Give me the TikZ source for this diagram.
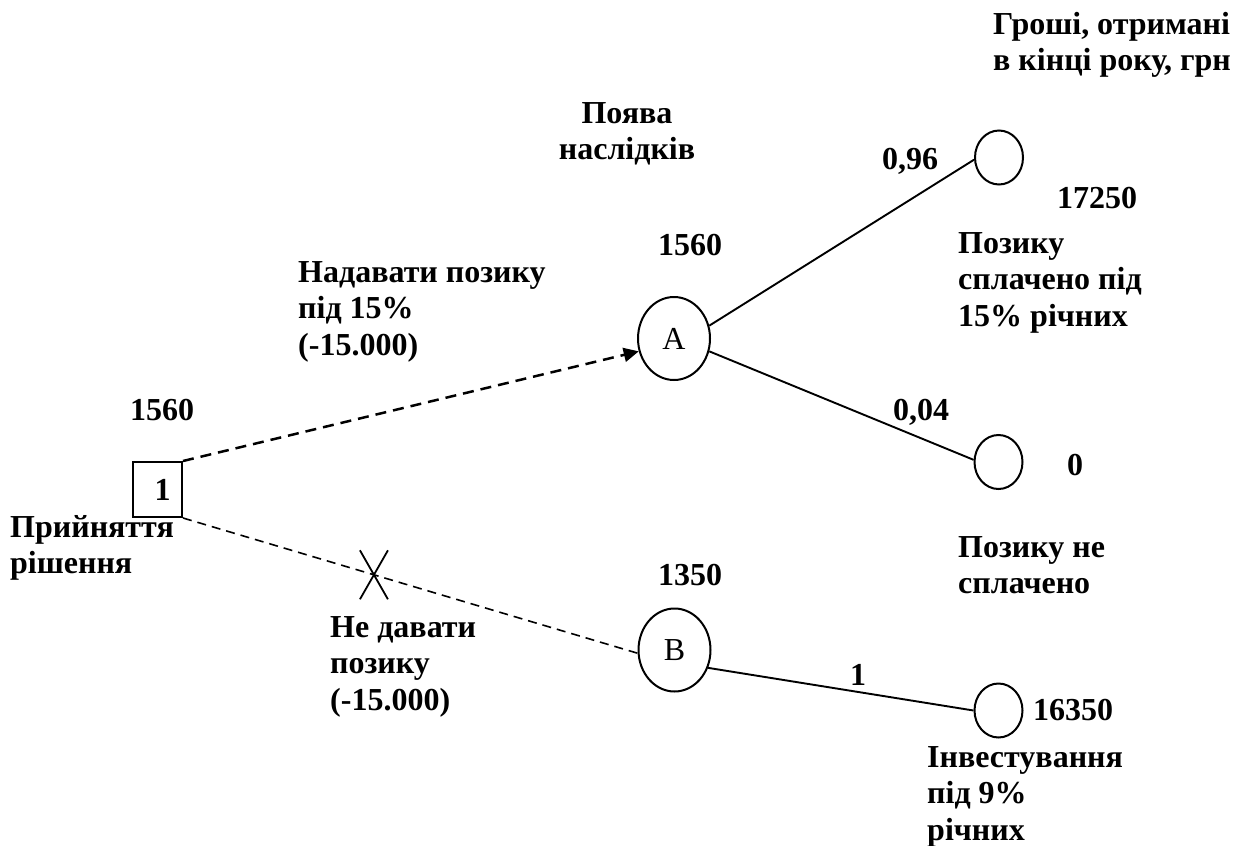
\documentclass[tikz,border=0pt]{standalone}
\usepackage{fontspec}
\setmainfont{Liberation Serif}
\usetikzlibrary{arrows.meta,shapes.geometric,calc}
\newcommand{\mlines}[2][l]{\begin{tabular}[t]{@{}#1@{}}#2\end{tabular}}
\begin{document}
\begin{tikzpicture}[x=1pt,y=-1pt,
  lbl/.style={font=\fontsize{32}{36.5}\selectfont\bfseries, inner sep=0pt, anchor=base west},
  decbox/.style={draw, rectangle, line width=2pt, inner sep=0pt, minimum width=49pt, minimum height=55pt, font=\fontsize{32}{36.5}\selectfont\bfseries},
  chance/.style={draw, ellipse, line width=2pt, inner sep=0pt, minimum width=72pt, minimum height=83pt, font=\fontsize{32}{36.5}\selectfont},
  endnode/.style={draw, ellipse, line width=2pt, inner sep=0pt, minimum width=48pt, minimum height=54pt},
  updash/.style={line width=2.5pt, dash pattern=on 11pt off 7pt},
  lowdash/.style={line width=1.6pt, dash pattern=on 9pt off 6pt},
  branch/.style={line width=1.9pt},
  crossline/.style={line width=1.8pt}]
\useasboundingbox (0,0) rectangle (1240,846);

% nodes
\node[decbox] (dec) at (157.5,489.5) {\hspace*{10pt}1};
\node[chance] (A) at (674,338.5) {A};
\node[chance] (B) at (674.5,650) {B};
\node[endnode] (C1) at (999,157.5) {};
\node[endnode] (C2) at (998.5,462) {};
\node[endnode] (C3) at (998.5,710.5) {};

% connectors
\draw[updash, -{Triangle[length=15pt,width=14pt]}] (dec.north east) -- (A.200);
\draw[lowdash] (dec.south east) -- coordinate[pos=0.42] (xm) (B.185);
\draw[crossline] (xm) +(-14,-24.5) -- +(14,24.5);
\draw[crossline] (xm) +(14,-24.5) -- +(-14,24.5);
\draw[branch] (A.20) -- (C1.185);
\draw[branch] (A.-20) -- (C2.175);
\draw[branch] (B.-28) -- (C3.west);

% labels
\node[lbl] (v1) at (130,420) {1560};
\node[lbl] (vA) at (658,255) {1560};
\node[lbl] (vB) at (658,585) {1350};
\node[lbl] (p96) at (882,169) {0,96};
\node[lbl] (p04) at (893,420) {0,04};
\node[lbl] (p1) at (850,685) {1};
\node[lbl] (r1) at (1057,208) {17250};
\node[lbl] (r2) at (1067,475) {0};
\node[lbl] (r3) at (1033,720) {16350};
\node[lbl] (head) at (993,34) {\mlines{Гроші, отримані\\в кінці року, грн}};
\node[lbl, anchor=base] (pojava) at (627,123) {\mlines[c]{Поява\\наслідків}};
\node[lbl] (give) at (298,282) {\mlines{Надавати позику\\під 15\%\\(-15.000)}};
\node[lbl] (paid) at (958,253) {\mlines{Позику\\сплачено під\\15\% річних}};
\node[lbl] (unpaid) at (958,557) {\mlines{Позику не\\сплачено}};
\node[lbl] (decide) at (10,537) {\mlines{Прийняття\\рішення}};
\node[lbl] (nogive) at (330,637) {\mlines{Не давати\\позику\\(-15.000)}};
\node[lbl] (invest) at (927,767) {\mlines{Інвестування\\під 9\%\\річних}};
\end{tikzpicture}
\end{document}
